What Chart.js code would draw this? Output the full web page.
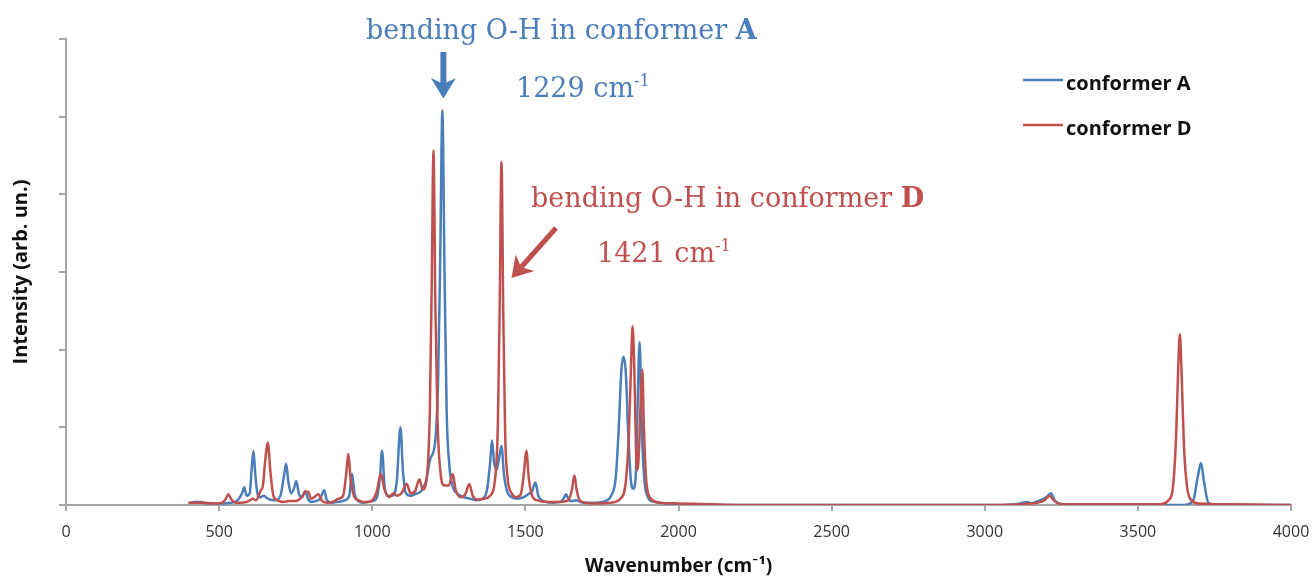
<!DOCTYPE html>
<html>
<head>
<meta charset="utf-8">
<title>IR spectra conformer A / D</title>
<script src="https://cdn.jsdelivr.net/npm/chart.js@4.4.1/dist/chart.umd.min.js"></script>
<style>
  html, body { margin: 0; padding: 0; background: #fff; }
  #chart { display: block; }
</style>
</head>
<body>
<canvas id="chart" width="1313" height="578"></canvas>
<script>
// spectra: [wavenumber (cm-1), intensity (arb. un.)]
const spectrumA = [
  [400, 0.02], [420, 0.04], [440, 0.04], [460, 0.02], [500, 0.02], [540, 0.03],
  [560, 0.06], [575, 0.15], [582, 0.23], [590, 0.12], [600, 0.15], [606, 0.45],
  [612, 0.70], [618, 0.40], [625, 0.15], [635, 0.10], [645, 0.12], [660, 0.08],
  [680, 0.06], [700, 0.12], [712, 0.38], [719, 0.53], [726, 0.30], [735, 0.15],
  [745, 0.22], [752, 0.31], [760, 0.15], [770, 0.10], [781, 0.18], [790, 0.08],
  [800, 0.04], [815, 0.05], [830, 0.08], [843, 0.19], [852, 0.06], [870, 0.03],
  [890, 0.04], [910, 0.06], [925, 0.12], [934, 0.40], [942, 0.15], [955, 0.05],
  [970, 0.03], [985, 0.04], [1000, 0.05], [1015, 0.10], [1025, 0.35], [1032, 0.70],
  [1040, 0.25], [1050, 0.12], [1065, 0.12], [1080, 0.30], [1092, 1.00], [1100, 0.45],
  [1110, 0.15], [1125, 0.12], [1140, 0.14], [1160, 0.18], [1175, 0.30], [1190, 0.60],
  [1205, 0.80], [1215, 1.60], [1222, 3.20], [1229, 5.08], [1236, 3.00], [1243, 1.20],
  [1252, 0.50], [1262, 0.25], [1280, 0.14], [1300, 0.10], [1320, 0.08], [1340, 0.06],
  [1360, 0.08], [1375, 0.20], [1385, 0.55], [1391, 0.83], [1398, 0.55], [1406, 0.45],
  [1414, 0.60], [1422, 0.76], [1430, 0.40], [1440, 0.18], [1455, 0.10], [1475, 0.08],
  [1495, 0.10], [1510, 0.14], [1522, 0.18], [1533, 0.29], [1542, 0.12], [1560, 0.05],
  [1590, 0.03], [1615, 0.04], [1627, 0.10], [1633, 0.14], [1640, 0.08], [1650, 0.05],
  [1665, 0.06], [1690, 0.03], [1730, 0.03], [1760, 0.05], [1780, 0.12], [1795, 0.35],
  [1805, 1.00], [1813, 1.70], [1820, 1.91], [1828, 1.70], [1836, 0.90], [1845, 0.30],
  [1852, 0.21], [1860, 0.35], [1866, 1.20], [1873, 2.10], [1880, 1.00], [1888, 0.35],
  [1900, 0.10], [1920, 0.04], [1960, 0.02], [2000, 0.01], [2100, 0.00], [3050, 0.00],
  [3100, 0.01], [3140, 0.04], [3150, 0.02], [3180, 0.06], [3200, 0.10], [3216, 0.15],
  [3230, 0.05], [3260, 0.01], [3400, 0.00], [3650, 0.00], [3680, 0.05], [3695, 0.35],
  [3706, 0.54], [3716, 0.30], [3730, 0.03], [3760, 0.00], [4000, 0.00]
];

const spectrumD = [
  [400, 0.03], [440, 0.03], [480, 0.02], [510, 0.03], [522, 0.08], [530, 0.14],
  [540, 0.07], [555, 0.03], [570, 0.03], [590, 0.04], [600, 0.06], [610, 0.08],
  [620, 0.06], [635, 0.18], [643, 0.25], [650, 0.55], [659, 0.80], [667, 0.45],
  [677, 0.12], [690, 0.06], [710, 0.04], [730, 0.05], [750, 0.05], [770, 0.10],
  [782, 0.17], [791, 0.17], [800, 0.08], [810, 0.10], [824, 0.14], [835, 0.06],
  [850, 0.03], [870, 0.04], [890, 0.08], [905, 0.12], [915, 0.40], [922, 0.66],
  [929, 0.35], [940, 0.12], [955, 0.06], [970, 0.04], [985, 0.04], [1000, 0.06],
  [1015, 0.18], [1028, 0.40], [1040, 0.20], [1055, 0.10], [1070, 0.15], [1080, 0.12],
  [1095, 0.15], [1113, 0.27], [1125, 0.15], [1140, 0.18], [1154, 0.33], [1165, 0.20],
  [1178, 0.35], [1188, 1.20], [1194, 2.80], [1200, 4.56], [1206, 2.60], [1213, 1.10],
  [1222, 0.45], [1235, 0.25], [1250, 0.25], [1263, 0.40], [1272, 0.20], [1290, 0.10],
  [1305, 0.15], [1317, 0.27], [1328, 0.12], [1345, 0.07], [1365, 0.08], [1385, 0.12],
  [1400, 0.30], [1410, 1.00], [1416, 2.50], [1422, 4.42], [1428, 2.40], [1434, 0.90],
  [1442, 0.35], [1455, 0.15], [1470, 0.10], [1485, 0.14], [1495, 0.40], [1503, 0.70],
  [1511, 0.35], [1522, 0.12], [1540, 0.06], [1570, 0.04], [1610, 0.04], [1640, 0.06],
  [1652, 0.20], [1660, 0.38], [1668, 0.18], [1680, 0.05], [1720, 0.02], [1780, 0.03],
  [1810, 0.08], [1828, 0.30], [1838, 0.90], [1845, 1.80], [1850, 2.30], [1856, 1.70],
  [1862, 0.60], [1866, 0.45], [1872, 0.80], [1878, 1.50], [1882, 1.74], [1887, 1.00],
  [1895, 0.30], [1910, 0.08], [1940, 0.03], [2000, 0.02], [2100, 0.01], [2200, 0.00],
  [3050, 0.00], [3120, 0.01], [3170, 0.03], [3195, 0.06], [3212, 0.12], [3225, 0.06],
  [3250, 0.01], [3400, 0.01], [3570, 0.01], [3600, 0.06], [3615, 0.25], [3625, 0.90],
  [3632, 1.80], [3637, 2.20], [3642, 1.80], [3650, 0.80], [3660, 0.25], [3675, 0.06],
  [3700, 0.02], [3800, 0.01], [4000, 0.00]
];

const seriesNames = ['conformer A', 'conformer D'];
const xTickValues = [0, 500, 1000, 1500, 2000, 2500, 3000, 3500, 4000];
const yTickValues = [0, 1, 2, 3, 4, 5, 6];
const peakA = [1229, 5.08];
const peakD = [1422, 4.42];

const BLUE = '#4a7ebb';
const RED = '#c0504d';
const AXIS_GREY = '#a6a6a6';
const SERIF = '"DejaVu Serif", "Liberation Serif", serif';
const SANS = '"Open Sans", Lato, sans-serif';

// draws text pieces (normal / bold / superscript) from x, baseline y
function drawRich(ctx, parts, x, y, size, color) {
  ctx.fillStyle = color;
  ctx.textBaseline = 'alphabetic';
  ctx.textAlign = 'left';
  let cx = x;
  for (const p of parts) {
    const s = p.sup ? size * 0.6 : size;
    ctx.font = (p.bold ? 'bold ' : '') + s + 'px ' + SERIF;
    ctx.fillText(p.text, cx, p.sup ? y - size * 0.42 : y);
    cx += ctx.measureText(p.text).width;
  }
}

function drawArrow(ctx, x0, y0, x1, y1, color, width, head) {
  const ang = Math.atan2(y1 - y0, x1 - x0);
  ctx.save();
  ctx.strokeStyle = color;
  ctx.fillStyle = color;
  ctx.lineWidth = width;
  ctx.lineCap = 'butt';
  ctx.beginPath();
  ctx.moveTo(x0, y0);
  ctx.lineTo(x1 - Math.cos(ang) * head * 0.6, y1 - Math.sin(ang) * head * 0.6);
  ctx.stroke();
  // arrow head
  ctx.beginPath();
  ctx.moveTo(x1, y1);
  ctx.lineTo(x1 - Math.cos(ang - 0.55) * head, y1 - Math.sin(ang - 0.55) * head);
  ctx.lineTo(x1 - Math.cos(ang) * head * 0.6, y1 - Math.sin(ang) * head * 0.6);
  ctx.lineTo(x1 - Math.cos(ang + 0.55) * head, y1 - Math.sin(ang + 0.55) * head);
  ctx.closePath();
  ctx.fill();
  ctx.restore();
}

const annotations = {
  id: 'annotations',
  afterDraw(chart) {
    const {ctx, scales: {x, y}} = chart;
    ctx.save();
    // conformer A label + arrow
    drawRich(ctx, [{text: 'bending O-H in conformer '}, {text: 'A', bold: true}], 366, 39, 27, BLUE);
    drawRich(ctx, [{text: '1229 cm'}, {text: '-1', sup: true}], 516, 97, 27, BLUE);
    const ax = x.getPixelForValue(peakA[0]);
    drawArrow(ctx, ax + 1, 52, ax + 1, y.getPixelForValue(peakA[1]) - 12, BLUE, 6, 24);
    // conformer D label + arrow
    drawRich(ctx, [{text: 'bending O-H in conformer '}, {text: 'D', bold: true}], 531, 207, 27, RED);
    drawRich(ctx, [{text: '1421 cm'}, {text: '-1', sup: true}], 597, 262, 27, RED);
    const dx = x.getPixelForValue(peakD[0]);
    drawArrow(ctx, 556, 228, dx + 10, 278, RED, 5, 24);

    // legend
    const items = [[BLUE, 80], [RED, 125]];
    items.forEach(([col, ly], i) => {
      ctx.strokeStyle = col;
      ctx.lineWidth = 2.5;
      ctx.beginPath();
      ctx.moveTo(1023, ly);
      ctx.lineTo(1063, ly);
      ctx.stroke();
      ctx.fillStyle = '#111';
      ctx.font = 'bold 20px ' + SANS;
      ctx.textBaseline = 'middle';
      ctx.textAlign = 'left';
      ctx.fillText(seriesNames[i], 1066, ly + 4);
    });
    ctx.restore();
  }
};

const toPoints = arr => arr.map(([wn, v]) => ({x: wn, y: v}));

new Chart(document.getElementById('chart').getContext('2d'), {
  type: 'line',
  data: {
    datasets: [
      {
        label: seriesNames[0],
        data: toPoints(spectrumA),
        borderColor: BLUE,
        borderWidth: 2.5,
        pointRadius: 0,
        cubicInterpolationMode: 'monotone',
        order: 2
      },
      {
        label: seriesNames[1],
        data: toPoints(spectrumD),
        borderColor: RED,
        borderWidth: 2.5,
        pointRadius: 0,
        cubicInterpolationMode: 'monotone',
        order: 1
      }
    ]
  },
  options: {
    responsive: false,
    animation: false,
    layout: { padding: { top: 39, right: 22, left: 0, bottom: 0 } },
    plugins: {
      legend: { display: false },
      tooltip: { enabled: false }
    },
    scales: {
      x: {
        type: 'linear',
        min: 0,
        max: 4000,
        afterBuildTicks: scale => { scale.ticks = xTickValues.map(v => ({ value: v })); },
        afterFit: scale => { scale.height = 73; scale.paddingLeft = 0; scale.paddingRight = 0; },
        grid: { drawOnChartArea: false, drawTicks: true, tickLength: 6, color: AXIS_GREY, lineWidth: 2 },
        border: { color: AXIS_GREY, width: 2 },
        ticks: {
          color: '#333',
          padding: 12,
          font: { family: SANS, size: 16 },
          maxRotation: 0,
          callback: v => String(v)
        },
        title: {
          display: true,
          text: 'Wavenumber (cm⁻¹)',
          color: '#111',
          font: { family: SANS, size: 19, weight: 'bold' },
          padding: { top: 0, bottom: 0 }
        }
      },
      y: {
        type: 'linear',
        min: 0,
        max: 6,
        afterBuildTicks: scale => { scale.ticks = yTickValues.map(v => ({ value: v })); },
        afterFit: scale => { scale.width = 66; scale.paddingTop = 0; scale.paddingBottom = 0; },
        grid: { drawOnChartArea: false, drawTicks: true, tickLength: 7, color: AXIS_GREY, lineWidth: 2 },
        border: { color: AXIS_GREY, width: 2 },
        ticks: { callback: () => '' },
        title: {
          display: true,
          text: 'Intensity (arb. un.)',
          color: '#111',
          font: { family: SANS, size: 20, weight: 'bold' },
          padding: { top: 9, bottom: 0 }
        }
      }
    }
  },
  plugins: [annotations]
});
</script>
</body>
</html>
